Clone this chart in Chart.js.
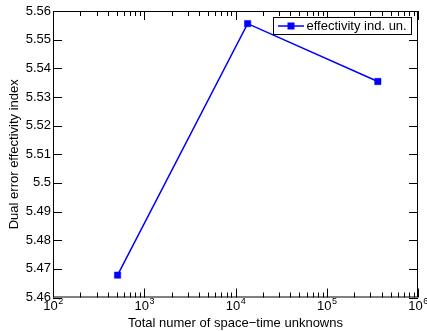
<!DOCTYPE html>
<html>
<head>
<meta charset="utf-8">
<script src="https://cdn.jsdelivr.net/npm/chart.js@4/dist/chart.umd.min.js"></script>
<style>
  html, body { margin: 0; padding: 0; background: #fff; }
  canvas { display: block; }
</style>
</head>
<body>
<canvas id="grafico" width="427" height="331"></canvas>
<script>
// dados
const unknowns = [510, 13580, 363000];
const effectivity = [5.4678, 5.5556, 5.5354];
const serieNome = 'effectivity ind. un.';
const expoentes = [2, 3, 4, 5, 6];
const yTicks = [5.46, 5.47, 5.48, 5.49, 5.5, 5.51, 5.52, 5.53, 5.54, 5.55, 5.56];

Chart.defaults.font.family = "'Liberation Sans', Arial, sans-serif";
Chart.defaults.color = '#000';

const azul = '#0000ff';
const fonte = "'Liberation Sans', Arial, sans-serif";

// eixos estilo matlab: moldura, ticks para dentro, rotulos 10^n e legenda dentro da area
const estiloMatlab = {
  id: 'estiloMatlab',
  afterDraw(chart) {
    const ctx = chart.ctx;
    const { left, right, top, bottom } = chart.chartArea;
    const xs = chart.scales.x;
    const ys = chart.scales.y;
    ctx.save();
    ctx.strokeStyle = '#000';
    ctx.lineWidth = 1;
    ctx.strokeRect(left + 0.5, top + 0.5, right - left - 1, bottom - top - 1);

    ctx.beginPath();
    yTicks.forEach(v => {
      const y = Math.round(ys.getPixelForValue(v)) + 0.5;
      ctx.moveTo(left, y); ctx.lineTo(left + 9, y);
      ctx.moveTo(right, y); ctx.lineTo(right - 9, y);
    });
    expoentes.forEach((e, i) => {
      const x = Math.round(xs.getPixelForValue(Math.pow(10, e))) + 0.5;
      ctx.moveTo(x, bottom); ctx.lineTo(x, bottom - 9);
      ctx.moveTo(x, top); ctx.lineTo(x, top + 9);
      if (i < expoentes.length - 1) {
        for (let m = 2; m <= 9; m++) {
          const xm = Math.round(xs.getPixelForValue(m * Math.pow(10, e))) + 0.5;
          ctx.moveTo(xm, bottom); ctx.lineTo(xm, bottom - 5);
          ctx.moveTo(xm, top); ctx.lineTo(xm, top + 5);
        }
      }
    });
    ctx.stroke();

    // rotulos 10^n
    ctx.fillStyle = '#000';
    ctx.textBaseline = 'alphabetic';
    ctx.textAlign = 'left';
    expoentes.forEach(e => {
      const x = xs.getPixelForValue(Math.pow(10, e));
      ctx.font = '13px ' + fonte;
      const wBase = ctx.measureText('10').width;
      ctx.font = '9px ' + fonte;
      const wExp = ctx.measureText(String(e)).width;
      const x0 = x - (wBase + wExp) / 2;
      ctx.font = '13px ' + fonte;
      ctx.fillText('10', x0, 310);
      ctx.font = '9px ' + fonte;
      ctx.fillText(String(e), x0 + wBase + 0.5, 303.5);
    });

    // legenda
    const ds = chart.data.datasets[0];
    const bx = 273, by = 17, bw = 138, bh = 17;
    ctx.fillStyle = '#fff';
    ctx.fillRect(bx, by, bw, bh);
    ctx.strokeStyle = '#000';
    ctx.lineWidth = 1;
    ctx.strokeRect(bx + 0.5, by + 0.5, bw, bh);
    const ly = by + bh / 2 + 0.5;
    ctx.strokeStyle = ds.borderColor;
    ctx.lineWidth = 1.5;
    ctx.beginPath();
    ctx.moveTo(278, ly); ctx.lineTo(304, ly);
    ctx.stroke();
    ctx.fillStyle = ds.backgroundColor;
    ctx.fillRect(291 - 3.5, ly - 3.5, 7, 7);
    ctx.fillStyle = '#000';
    ctx.font = '13px ' + fonte;
    ctx.textBaseline = 'middle';
    ctx.fillText(ds.label, 306.5, ly + 0.5);
    ctx.restore();
  }
};

new Chart(document.getElementById('grafico'), {
  type: 'line',
  data: {
    datasets: [{
      label: serieNome,
      data: unknowns.map((u, i) => ({ x: u, y: effectivity[i] })),
      borderColor: azul,
      backgroundColor: azul,
      borderWidth: 1.5,
      pointStyle: 'rect',
      pointRadius: 4.5,
      pointBorderWidth: 0.5,
      tension: 0
    }]
  },
  options: {
    responsive: false,
    devicePixelRatio: 1,
    animation: false,
    layout: { padding: { left: 0, right: 9, top: 11, bottom: 0 } },
    plugins: { legend: { display: false }, tooltip: { enabled: false } },
    scales: {
      x: {
        type: 'logarithmic',
        min: 100,
        max: 1000000,
        grid: { display: false },
        border: { display: false },
        ticks: { display: false },
        title: {
          display: true,
          text: 'Total numer of space\u2212time unknowns',
          font: { size: 13 },
          padding: { top: 0, bottom: 0 }
        },
        afterFit(scale) { scale.height = 33.5; }
      },
      y: {
        min: 5.46,
        max: 5.56,
        grid: { display: false, drawTicks: false },
        border: { display: false },
        afterBuildTicks(scale) { scale.ticks = yTicks.map(v => ({ value: v })); },
        ticks: {
          font: { size: 13 },
          padding: 2,
          callback: v => String(Number(v.toFixed(2)))
        },
        title: {
          display: true,
          text: 'Dual error effectivity index',
          font: { size: 13 },
          padding: { top: 7, bottom: 0 }
        },
        afterFit(scale) { scale.width = 53; }
      }
    }
  },
  plugins: [estiloMatlab]
});
</script>
</body>
</html>
